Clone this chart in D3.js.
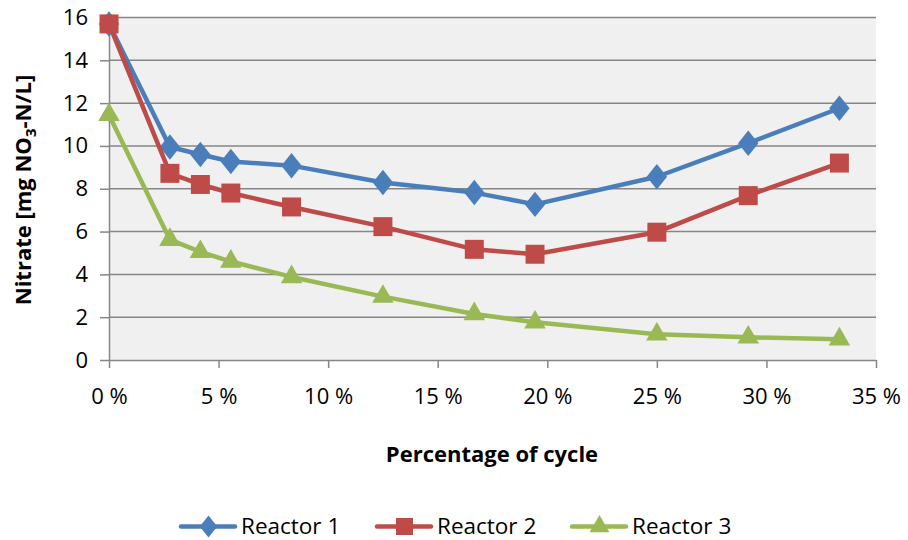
<!DOCTYPE html>
<html>
<head>
<meta charset="utf-8">
<script src="https://cdn.jsdelivr.net/npm/d3@7"></script>
<style>
  html, body { margin: 0; padding: 0; background: #fff; }
  svg { display: block; font-family: "Open Sans", Lato, sans-serif; }
</style>
</head>
<body>
<svg id="chart" width="908" height="540"></svg>
<script>
// Sampling points, as percentage of cycle
const cyclePct = [0, 2.78, 4.17, 5.56, 8.33, 12.5, 16.67, 19.44, 25, 29.17, 33.33];

// Nitrate concentration per reactor [mg NO3-N/L]
const reactor1 = [15.7, 9.95, 9.6, 9.27, 9.08, 8.29, 7.82, 7.27, 8.56, 10.13, 11.76];
const reactor2 = [15.7, 8.72, 8.2, 7.8, 7.15, 6.23, 5.17, 4.94, 5.97, 7.68, 9.2];
const reactor3 = [11.45, 5.62, 5.05, 4.6, 3.88, 2.96, 2.15, 1.76, 1.2, 1.06, 0.97];

const seriesNames = ["Reactor 1", "Reactor 2", "Reactor 3"];
const seriesColors = ["#4A7EBB", "#BE4B48", "#98B954"];

const xTicks = [0, 5, 10, 15, 20, 25, 30, 35];
const yTicks = [0, 2, 4, 6, 8, 10, 12, 14, 16];

// A wider diamond than d3.symbolDiamond (width/height ≈ 0.8)
const wideDiamond = {
  draw(ctx, size) {
    const h = Math.sqrt(size / 1.6);
    const w = h * 0.8;
    ctx.moveTo(0, -h);
    ctx.lineTo(w, 0);
    ctx.lineTo(0, h);
    ctx.lineTo(-w, 0);
    ctx.closePath();
  }
};
const seriesShapes = [wideDiamond, d3.symbolSquare, d3.symbolTriangle];
const markerSizes = [260, 360, 200];
const legendSizes = [190, 290, 170];

const series = [reactor1, reactor2, reactor3].map((vals, i) => ({
  name: seriesNames[i],
  color: seriesColors[i],
  shape: seriesShapes[i],
  size: markerSizes[i],
  legendSize: legendSizes[i],
  points: vals.map((v, j) => ({ x: cyclePct[j], y: v }))
}));

const svg = d3.select("#chart");
const plot = { left: 109, right: 876, top: 17.5, bottom: 360 };

const x = d3.scaleLinear().domain([0, 35]).range([plot.left, plot.right]);
const y = d3.scaleLinear().domain([0, 16]).range([plot.bottom, plot.top]);

const axisColor = "#868686";
const tickFont = 22;

// plot area background
svg.append("rect")
  .attr("x", plot.left).attr("y", plot.top)
  .attr("width", plot.right - plot.left)
  .attr("height", plot.bottom - plot.top)
  .attr("fill", "#F0F0F0");

// horizontal gridlines
svg.append("g").selectAll("line")
  .data(yTicks.filter(t => t > 0))
  .join("line")
  .attr("x1", plot.left).attr("x2", plot.right)
  .attr("y1", d => y(d)).attr("y2", d => y(d))
  .attr("stroke", axisColor).attr("stroke-width", 1.5);

// y axis
const yAxis = svg.append("g")
  .attr("transform", `translate(${plot.left},0)`)
  .call(d3.axisLeft(y).tickValues(yTicks).tickSize(9).tickPadding(12).tickSizeOuter(0));
yAxis.select(".domain").attr("stroke", axisColor).attr("stroke-width", 1.5);
yAxis.selectAll(".tick line").attr("stroke", axisColor).attr("stroke-width", 1.5);
yAxis.selectAll(".tick text")
  .attr("font-size", tickFont).attr("fill", "#000")
  .attr("font-family", "'Open Sans', Lato, sans-serif");

// x axis
const xAxis = svg.append("g")
  .attr("transform", `translate(0,${plot.bottom})`)
  .call(d3.axisBottom(x).tickValues(xTicks).tickSize(8).tickPadding(20).tickSizeOuter(0)
    .tickFormat(d => d + " %"));
xAxis.select(".domain").attr("stroke", axisColor).attr("stroke-width", 1.5);
xAxis.selectAll(".tick line").attr("stroke", axisColor).attr("stroke-width", 1.5);
xAxis.selectAll(".tick text")
  .attr("font-size", tickFont).attr("fill", "#000")
  .attr("font-family", "'Open Sans', Lato, sans-serif");

// series lines and markers
const line = d3.line().x(d => x(d.x)).y(d => y(d.y));
series.forEach(s => {
  const g = svg.append("g");
  g.append("path")
    .datum(s.points)
    .attr("d", line)
    .attr("fill", "none")
    .attr("stroke", s.color)
    .attr("stroke-width", 4.5)
    .attr("stroke-linejoin", "round");
  g.selectAll("path.marker")
    .data(s.points)
    .join("path")
    .attr("class", "marker")
    .attr("transform", d => `translate(${x(d.x)},${y(d.y)})`)
    .attr("d", d3.symbol().type(s.shape).size(s.size))
    .attr("fill", s.color);
});

// axis titles
svg.append("text")
  .attr("x", 492).attr("y", 462)
  .attr("text-anchor", "middle")
  .attr("font-size", 22).attr("font-weight", "bold")
  .text("Percentage of cycle");

const yTitle = svg.append("text")
  .attr("transform", "translate(31,190) rotate(-90)")
  .attr("text-anchor", "middle")
  .attr("font-size", 22).attr("font-weight", "bold");
yTitle.append("tspan").text("Nitrate [mg NO");
yTitle.append("tspan").attr("font-size", 15).attr("dy", 5).text("3");
yTitle.append("tspan").attr("dy", -5).text("-N/L]");

// legend
const legendX = [181, 377, 572];
const legendY = 526.5;
series.forEach((s, i) => {
  const g = svg.append("g").attr("transform", `translate(${legendX[i]},${legendY})`);
  g.append("line")
    .attr("x1", 0).attr("x2", 54)
    .attr("stroke", s.color).attr("stroke-width", 4.5)
    .attr("stroke-linecap", "round");
  g.append("path")
    .attr("transform", "translate(27.5,0)")
    .attr("d", d3.symbol().type(s.shape).size(s.legendSize))
    .attr("fill", s.color);
  g.append("text")
    .attr("x", 60).attr("y", 7.5)
    .attr("font-size", 22.5)
    .text(s.name);
});
</script>
</body>
</html>
